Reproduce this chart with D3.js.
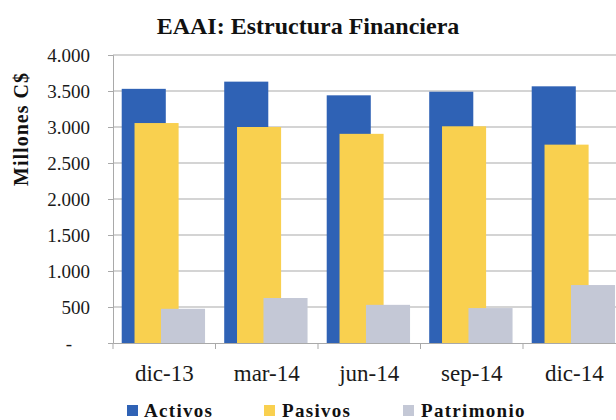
<!DOCTYPE html>
<html>
<head>
<meta charset="utf-8">
<script src="https://cdn.jsdelivr.net/npm/d3@7"></script>
<style>
  body { margin: 0; background: #fff; }
  svg { display: block; }
  svg text { font-family: "Liberation Serif", "DejaVu Serif", serif; }
</style>
</head>
<body>
<div id="chart"></div>
<script>
// data (millones C$)
var categorias = ["dic-13", "mar-14", "jun-14", "sep-14", "dic-14"];
var series = ["Activos", "Pasivos", "Patrimonio"];
var activos = [3530, 3630, 3440, 3490, 3565];
var pasivos = [3055, 3000, 2905, 3010, 2755];
var patrimonio = [475, 625, 530, 485, 805];
var yTicks = [0, 500, 1000, 1500, 2000, 2500, 3000, 3500, 4000];

var colores = ["#2f62b5", "#f9d04f", "#c4c8d6"];
var serif = "'Liberation Serif', 'DejaVu Serif', serif";

var width = 616;
var height = 420;
var margin = { left: 113, top: 55, bottom: 77 };
var step = 102.5;

var svg = d3.select("#chart")
    .append("svg")
    .attr("width", width)
    .attr("height", height)
    .attr("font-family", serif);

var fmt = d3.formatLocale({ decimal: ",", thousands: ".", grouping: [3], currency: ["", ""] }).format(",.0f");

var x = d3.scaleBand()
    .domain(categorias)
    .range([margin.left, margin.left + step * categorias.length])
    .padding(0);

var y = d3.scaleLinear()
    .domain([0, 4000])
    .range([height - margin.bottom, margin.top]);

// gridlines
svg.append("g")
    .selectAll("line")
    .data(yTicks.filter(d => d > 0))
    .enter()
    .append("line")
    .attr("x1", margin.left)
    .attr("x2", width)
    .attr("y1", d => y(d))
    .attr("y2", d => y(d))
    .attr("stroke", "#a9a9a9")
    .attr("stroke-width", 1);

// bars: the three series overlap inside each band
var bw = x.bandwidth();
var offsets = [0.085, 0.21, 0.468];
var barW = 0.43 * bw;
var valores = [activos, pasivos, patrimonio];

series.forEach(function (s, i) {
    svg.append("g")
        .selectAll("rect")
        .data(valores[i])
        .enter()
        .append("rect")
        .attr("x", (d, j) => x(categorias[j]) + offsets[i] * bw)
        .attr("y", d => y(d))
        .attr("width", barW)
        .attr("height", d => y(0) - y(d))
        .attr("fill", colores[i]);
});

// y axis
var yAxis = d3.axisLeft(y)
    .tickValues(yTicks)
    .tickSize(5)
    .tickPadding(18)
    .tickFormat(d => d === 0 ? "-" : fmt(d));

var gY = svg.append("g")
    .attr("transform", "translate(" + margin.left + ",0)")
    .call(yAxis)
    .attr("font-family", serif)
    .attr("font-size", 19);
gY.select(".domain").attr("stroke", "#a9a9a9");
gY.selectAll(".tick line").attr("stroke", "#a9a9a9");
gY.selectAll(".tick text").attr("fill", "#1a1a1a");
gY.selectAll(".tick")
    .filter(d => d === 0)
    .select("text")
    .attr("x", -41);

// x axis
var xAxis = d3.axisBottom(x)
    .tickSize(0)
    .tickPadding(22);

var gX = svg.append("g")
    .attr("transform", "translate(0," + y(0) + ")")
    .call(xAxis)
    .attr("font-family", serif)
    .attr("font-size", 23);
gX.select(".domain").attr("stroke", "#a9a9a9");
gX.selectAll(".tick text").attr("fill", "#1a1a1a");

// tick marks between categories
gX.append("g")
    .selectAll("line")
    .data(d3.range(categorias.length + 1))
    .enter()
    .append("line")
    .attr("x1", d => margin.left + d * step)
    .attr("x2", d => margin.left + d * step)
    .attr("y1", 0)
    .attr("y2", 6)
    .attr("stroke", "#a9a9a9");

// title
svg.append("text")
    .attr("x", 308)
    .attr("y", 34)
    .attr("text-anchor", "middle")
    .attr("fill", "#111")
    .attr("font-weight", "bold")
    .attr("font-size", 24)
    .text("EAAI: Estructura Financiera");

// y title
svg.append("text")
    .attr("transform", "translate(28,129) rotate(-90)")
    .attr("text-anchor", "middle")
    .attr("fill", "#111")
    .attr("font-weight", "bold")
    .attr("font-size", 20)
    .attr("letter-spacing", 1)
    .text("Millones C$");

// legend
var legX = [127, 264, 403];
var legend = svg.append("g")
    .selectAll("g")
    .data(series)
    .enter()
    .append("g")
    .attr("transform", (d, i) => "translate(" + legX[i] + ",0)");

legend.append("rect")
    .attr("x", 0)
    .attr("y", 405)
    .attr("width", 11)
    .attr("height", 11)
    .attr("fill", (d, i) => colores[i]);

legend.append("text")
    .attr("x", (d, i) => i === 0 ? 17 : 18)
    .attr("y", 417)
    .attr("fill", "#111")
    .attr("font-weight", "bold")
    .attr("font-size", 19)
    .attr("letter-spacing", 1.3)
    .text(d => d);
</script>
</body>
</html>
